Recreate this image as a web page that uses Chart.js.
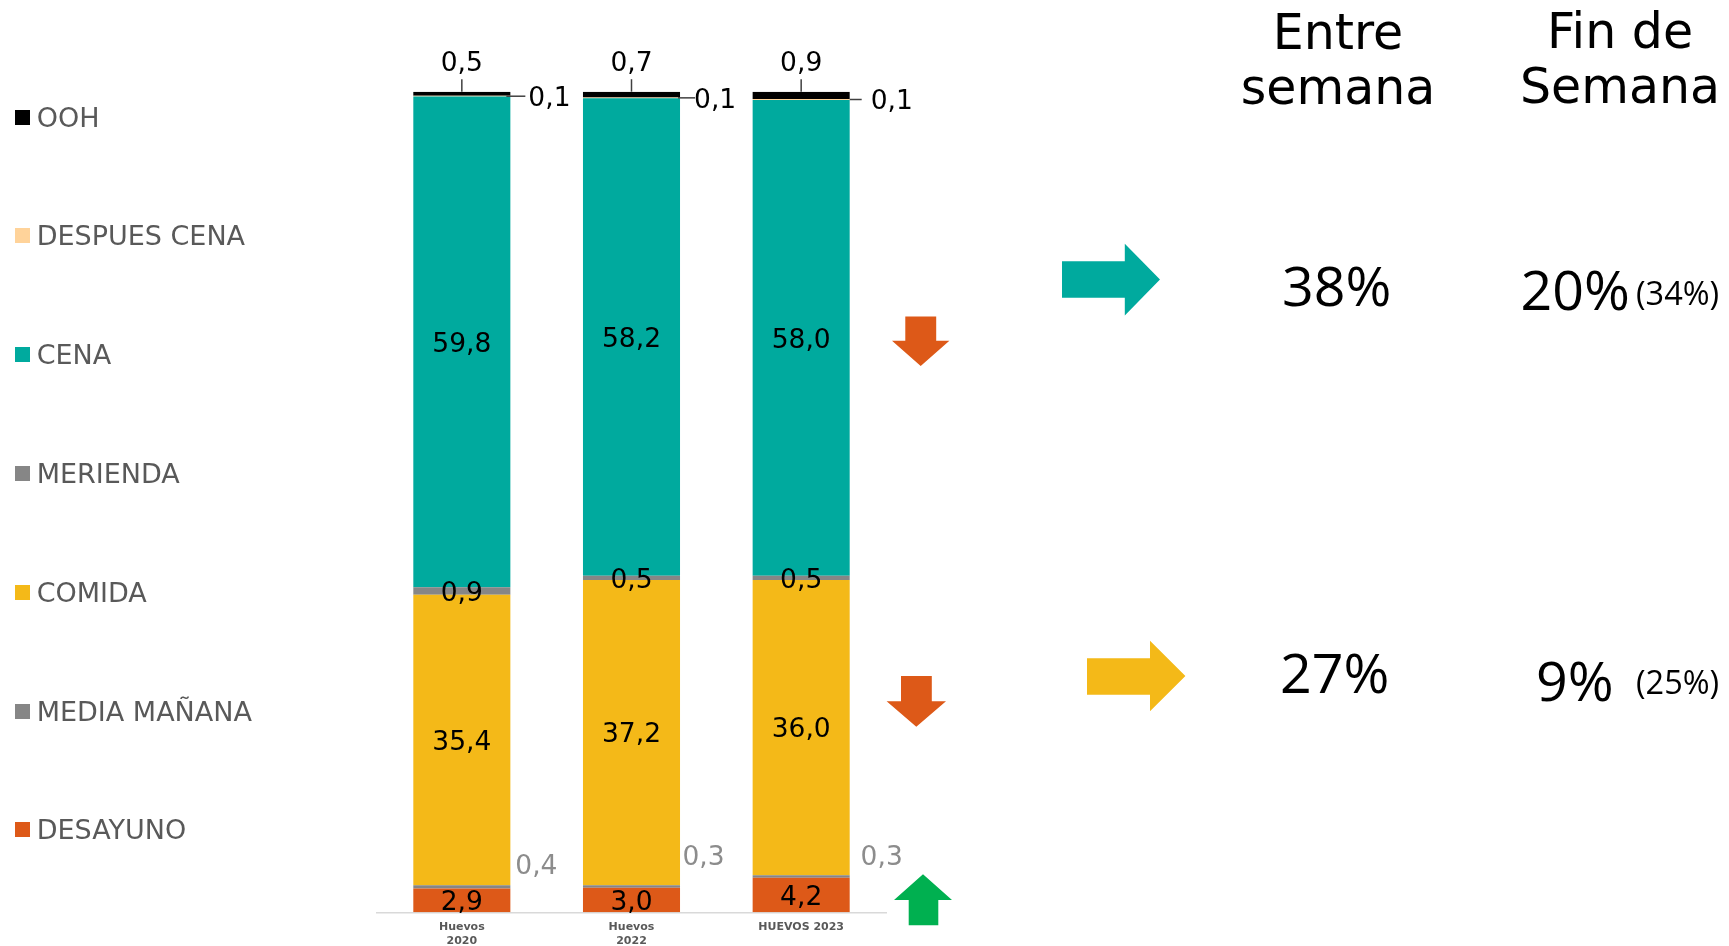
<!DOCTYPE html>
<html lang="es">
<head>
<meta charset="utf-8">
<title>Huevos: consumo por momento del día</title>
<script src="https://cdn.jsdelivr.net/npm/chart.js@4.4.1/dist/chart.umd.min.js"></script>
<style>
  html, body { margin: 0; padding: 0; background: #fff; }
  #wrap { position: relative; width: 1729px; height: 946px; overflow: hidden; }
  #chart { position: absolute; left: 0; top: 0; }
  .leg { position: absolute; left: 15px; height: 30px; display: flex; align-items: center;
         font: 27px "DejaVu Sans", sans-serif; color: #595959; white-space: nowrap; }
  .leg i { display: inline-block; width: 15px; height: 15px; margin-right: 6.7px; }
  .head { position: absolute; width: 320px; text-align: center; color: #000;
          font: 49px "DejaVu Sans", sans-serif; line-height: 55px; }
  .pct { position: absolute; font-family: "Open Sans", sans-serif; line-height: 1; color: #000; white-space: nowrap; }
  #shapes { position: absolute; left: 0; top: 0; }
</style>
</head>
<body>
<div id="wrap">
  <canvas id="chart" width="1729" height="946"></canvas>
  <div id="legend"></div>

  <div class="head" style="left:1178px; top:5px;">Entre<br>semana</div>
  <div class="head" style="left:1460px; top:4px;">Fin de<br>Semana</div>

  <div class="pct" style="left:1282px; top:256.6px; font-size:55.5px;">38%</div>
  <div class="pct" style="left:1520.6px; top:261px; font-size:55.5px;">20%</div>
  <div class="pct" style="left:1636px; top:277px; font-size:32.5px;">(34%)</div>
  <div class="pct" style="left:1280px; top:643.7px; font-size:55.5px;">27%</div>
  <div class="pct" style="left:1536px; top:652px; font-size:55.5px;">9%</div>
  <div class="pct" style="left:1636px; top:666px; font-size:32.5px;">(25%)</div>

  <svg id="shapes" width="1729" height="946" xmlns="http://www.w3.org/2000/svg">
    <!-- tendencia: cena y comida entre semana -->
    <polygon fill="#00aa9e" points="1062,261.3 1124.8,261.3 1124.8,243.7 1160,279.5 1124.8,315.4 1124.8,297.7 1062,297.7"/>
    <polygon fill="#f4b918" points="1087,658.3 1150,658.3 1150,640.7 1185.4,676 1150,711.2 1150,694.7 1087,694.7"/>
    <!-- variación 2023 -->
    <polygon fill="#dd5918" points="905.3,316.5 936.2,316.5 936.2,340.7 949.4,340.7 920.7,366 892,340.7 905.3,340.7"/>
    <polygon fill="#dd5918" points="901,676 931.8,676 931.8,701.3 946,701.3 916.3,726.7 886.6,701.3 901,701.3"/>
    <polygon fill="#00b050" points="923,874.3 952,900 938.3,900 938.3,925.3 908.7,925.3 908.7,900 894,900"/>
  </svg>
</div>

<script>
// Categorías (eje X) y reparto por momento del día, en % de ocasiones
const categories = [['Huevos', '2020'], ['Huevos', '2022'], 'HUEVOS 2023'];

const desayuno     = [2.9, 3.0, 4.2];
const mediaManana  = [0.4, 0.3, 0.3];
const comida       = [35.4, 37.2, 36.0];
const merienda     = [0.9, 0.5, 0.5];
const cena         = [59.8, 58.2, 58.0];
const despuesCena  = [0.1, 0.1, 0.1];
const ooh          = [0.5, 0.7, 0.9];

const seriesNames  = ['DESAYUNO', 'MEDIA MAÑANA', 'COMIDA', 'MERIENDA', 'CENA', 'DESPUES CENA', 'OOH'];
const seriesColors = ['#dd5918', '#868686', '#f4b918', '#868686', '#00aa9e', '#ffd39a', '#000000'];
const seriesValues = [desayuno, mediaManana, comida, merienda, cena, despuesCena, ooh];
// cómo se etiqueta cada serie
const labelModes   = ['inside', 'side', 'inside', 'inside', 'inside', 'leaderRight', 'leaderTop'];

const FONT = '"DejaVu Sans", sans-serif';
const LABEL_SIZE = 26.5;

const fmt = v => v.toFixed(1).replace('.', ',');

// Texto centrado verticalmente sobre la altura de las cifras
function drawText(ctx, txt, x, yMid, align, color) {
  ctx.fillStyle = color;
  ctx.textAlign = align;
  ctx.textBaseline = 'alphabetic';
  ctx.fillText(txt, x, yMid + 0.3645 * LABEL_SIZE);
}

// ajustes finos de posición de las etiquetas exteriores, por barra
const sideNudge   = [[26, -23], [23.5, -31], [32, -21]];
const rightLeader = [[-4, 15, 18], [-2, 15, 14], [0, 12, 21]];

const segmentLabels = {
  id: 'segmentLabels',
  afterDatasetsDraw(chart) {
    const ctx = chart.ctx;
    ctx.save();
    ctx.font = LABEL_SIZE + 'px ' + FONT;
    ctx.strokeStyle = '#404040';
    ctx.lineWidth = 1.5;
    chart.data.datasets.forEach((ds, i) => {
      const meta = chart.getDatasetMeta(i);
      meta.data.forEach((bar, j) => {
        const p = bar.getProps(['x', 'y', 'base', 'width'], true);
        const txt = fmt(ds.data[j]);
        const mid = (p.y + p.base) / 2;
        const right = p.x + p.width / 2;
        const top = Math.min(p.y, p.base);
        switch (ds.labelMode) {
          case 'inside':
            drawText(ctx, txt, p.x, mid, 'center', '#000');
            break;
          case 'side': {
            const [dx, dy] = sideNudge[j];
            drawText(ctx, txt, right + dx, mid + dy, 'center', '#8c8c8c');
            break;
          }
          case 'leaderRight': {
            const [x0, x1, tx] = rightLeader[j];
            ctx.beginPath();
            ctx.moveTo(right + x0, mid);
            ctx.lineTo(right + x1, mid);
            ctx.stroke();
            drawText(ctx, txt, right + tx, mid, 'left', '#000');
            break;
          }
          case 'leaderTop':
            ctx.beginPath();
            ctx.moveTo(p.x, top);
            ctx.lineTo(p.x, top - 12.5);
            ctx.stroke();
            drawText(ctx, txt, p.x, top - 30, 'center', '#000');
            break;
        }
      });
    });
    ctx.restore();
  }
};

const datasets = seriesNames.map((name, i) => ({
  label: name,
  data: seriesValues[i],
  backgroundColor: seriesColors[i],
  borderWidth: 0,
  barPercentage: 0.572,
  categoryPercentage: 1,
  labelMode: labelModes[i]
}));

const chart = new Chart(document.getElementById('chart'), {
  type: 'bar',
  data: { labels: categories, datasets },
  options: {
    responsive: false,
    animation: false,
    devicePixelRatio: 1,
    layout: { padding: { left: 377, right: 843, top: 91.7, bottom: 0 } },
    plugins: { legend: { display: false }, tooltip: { enabled: false }, title: { display: false } },
    scales: {
      x: {
        stacked: true,
        grid: { display: false, drawTicks: false },
        border: { display: true, color: '#d9d9d9', width: 1.5 },
        ticks: {
          color: '#595959',
          padding: 8,
          maxRotation: 0,
          font: { family: FONT, size: 11, weight: 'bold', lineHeight: 1.27 }
        },
        afterFit(scale) { scale.height = 33.7; }
      },
      y: { stacked: true, display: false, min: 0, max: 100 }
    }
  },
  plugins: [segmentLabels]
});

// Leyenda vertical, de arriba (OOH) a abajo (DESAYUNO)
const legend = document.getElementById('legend');
chart.data.datasets.slice().reverse().forEach((ds, k) => {
  const item = document.createElement('div');
  item.className = 'leg';
  item.style.top = (117 + k * 118.8 - 15) + 'px';
  const sw = document.createElement('i');
  sw.style.background = ds.backgroundColor;
  item.appendChild(sw);
  item.appendChild(document.createTextNode(ds.label));
  legend.appendChild(item);
});
</script>
</body>
</html>
